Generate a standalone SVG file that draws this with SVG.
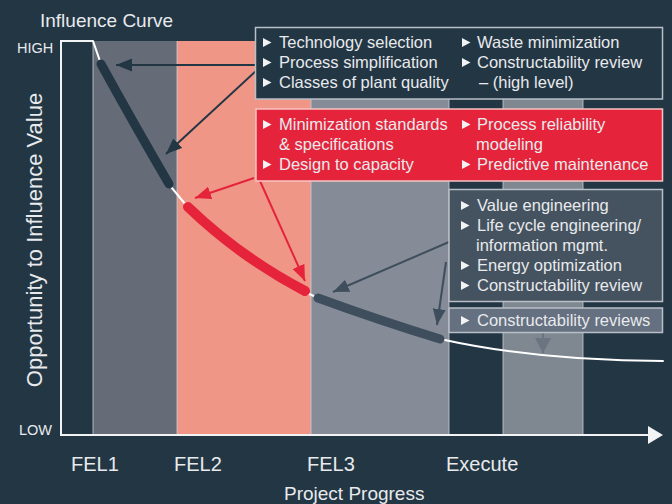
<svg xmlns="http://www.w3.org/2000/svg" width="672" height="504" viewBox="0 0 672 504">
<style>
text{font-family:"Liberation Sans",Arial,sans-serif;fill:#e8eaed}
.bx{font-size:16.5px}
.ax{font-size:20px}
.bl{fill:#f2f3f5}
.edge{stroke:#c9cdd3;stroke-width:1;opacity:0.8}
</style>
<defs>
<path id="b" d="M0,-4.4 L8.5,0 L0,4.4Z"/>
<marker id="mDark" markerUnits="userSpaceOnUse" markerWidth="18" markerHeight="14" refX="16" refY="6.5" orient="auto"><path d="M0,0 L16,6.5 L0,13Z" fill="#233644"/></marker>
<marker id="mRed" markerUnits="userSpaceOnUse" markerWidth="18" markerHeight="14" refX="16" refY="6.5" orient="auto"><path d="M0,0 L16,6.5 L0,13Z" fill="#e5243b"/></marker>
<marker id="mGray" markerUnits="userSpaceOnUse" markerWidth="18" markerHeight="14" refX="16" refY="6.5" orient="auto"><path d="M0,0 L16,6.5 L0,13Z" fill="#3f4e5d"/></marker>
<marker id="mLight" markerUnits="userSpaceOnUse" markerWidth="18" markerHeight="17" refX="15" refY="8" orient="auto"><path d="M0,0 L15,8 L0,16Z" fill="#6b7481"/></marker>
</defs>
<rect width="672" height="504" fill="#233644"/>
<g id="bands">
<rect x="93" y="41" width="84" height="394" fill="#656c78"/>
<rect x="177" y="41" width="134" height="394" fill="#f09686"/>
<rect x="311" y="41" width="138" height="394" fill="#858c97"/>
<rect x="503" y="41" width="80" height="394" fill="#7f8791"/>
<line class="edge" x1="93" y1="41" x2="93" y2="435"/>
<line class="edge" x1="177" y1="41" x2="177" y2="435"/>
<line class="edge" x1="311" y1="41" x2="311" y2="435"/>
<line class="edge" x1="449" y1="41" x2="449" y2="435"/>
<line class="edge" x1="503" y1="41" x2="503" y2="435"/>
<line class="edge" x1="583" y1="41" x2="583" y2="435"/>
</g>
<g id="axes">
<path d="M93,41 L61,41 L61,435 L649,435" fill="none" stroke="#f2f3f5" stroke-width="2"/>
<path d="M648,426 L663,435 L648,444Z" fill="#f2f3f5"/>
<text x="40" y="27" style="font-size:19px">Influence Curve</text>
<text x="17" y="53" style="font-size:14.5px">HIGH</text>
<text x="19" y="435" style="font-size:14.5px">LOW</text>
<text transform="translate(42,240) rotate(-90)" text-anchor="middle" style="font-size:22px">Opportunity to Influence Value</text>
<text class="ax" x="71" y="471">FEL1</text>
<text class="ax" x="174" y="471">FEL2</text>
<text class="ax" x="307" y="471">FEL3</text>
<text class="ax" x="446" y="471">Execute</text>
<text x="284" y="500" style="font-size:19px">Project Progress</text>
</g>
<g id="curve" fill="none" stroke-linecap="round">
<path d="M93,41 L101,64 Q132,120.5 171,187 L186,205 Q240,257 305,292 L318,298 Q378,320 440,339 Q540,361 663,361" stroke="#ffffff" stroke-width="2"/>
<path d="M101,64 Q132,120.5 169,184" stroke="#233644" stroke-width="9"/>
<path d="M188,207 Q240,257 305,291" stroke="#e5243b" stroke-width="10"/>
<path d="M318,298 Q378,320 440,339" stroke="#3f4e5d" stroke-width="9"/>
</g>
<g id="connectors" fill="none" stroke-width="2">
<line x1="256" y1="65" x2="116" y2="65" stroke="#233644" marker-end="url(#mDark)"/>
<line x1="256" y1="71" x2="166" y2="154" stroke="#233644" marker-end="url(#mDark)"/>
<line x1="254" y1="178" x2="195" y2="198" stroke="#e5243b" marker-end="url(#mRed)"/>
<line x1="260" y1="181" x2="305" y2="281" stroke="#e5243b" marker-end="url(#mRed)"/>
<line x1="449" y1="242" x2="333" y2="292" stroke="#3f4e5d" marker-end="url(#mGray)"/>
<line x1="446" y1="262" x2="437" y2="325" stroke="#3f4e5d" marker-end="url(#mGray)"/>
<line x1="543" y1="333" x2="543" y2="353" stroke="#6b7481" marker-end="url(#mLight)"/>
</g>
<g id="box-fel1">
<rect x="255.5" y="27.5" width="407" height="71.5" fill="#233644" stroke="#b9bfc7" stroke-width="1.5"/>
<use href="#b" class="bl" x="263" y="42.5"/><text class="bx" x="279" y="48">Technology selection</text>
<use href="#b" class="bl" x="263" y="62.5"/><text class="bx" x="279" y="68">Process simplification</text>
<use href="#b" class="bl" x="263" y="82.5"/><text class="bx" x="279" y="88">Classes of plant quality</text>
<use href="#b" class="bl" x="462" y="42.5"/><text class="bx" x="477" y="48">Waste minimization</text>
<use href="#b" class="bl" x="462" y="62.5"/><text class="bx" x="477" y="68">Constructability review</text>
<text class="bx" x="479" y="88">– (high level)</text>
</g>
<g id="box-fel2">
<rect x="256" y="109" width="406.5" height="72" fill="#e5243b" stroke="#f6c3c3" stroke-width="1.5"/>
<use href="#b" class="bl" x="263" y="124.5"/><text class="bx" x="279" y="130">Minimization standards</text>
<text class="bx" x="279" y="150">&amp; specifications</text>
<use href="#b" class="bl" x="263" y="164.5"/><text class="bx" x="279" y="170">Design to capacity</text>
<use href="#b" class="bl" x="462" y="124.5"/><text class="bx" x="477" y="130">Process reliability</text>
<text class="bx" x="476" y="150">modeling</text>
<use href="#b" class="bl" x="462" y="164.5"/><text class="bx" x="477" y="170">Predictive maintenance</text>
</g>
<g id="box-fel3">
<rect x="449" y="189.5" width="213.5" height="112" fill="#45525f" stroke="#b9bfc7" stroke-width="1.5"/>
<use href="#b" class="bl" x="461" y="205.5"/><text class="bx" x="477" y="211">Value engineering</text>
<use href="#b" class="bl" x="461" y="225.5"/><text class="bx" x="477" y="231">Life cycle engineering/</text>
<text class="bx" x="476" y="251">information mgmt.</text>
<use href="#b" class="bl" x="461" y="265.5"/><text class="bx" x="477" y="271">Energy optimization</text>
<use href="#b" class="bl" x="461" y="285.5"/><text class="bx" x="477" y="291">Constructability review</text>
</g>
<g id="box-execute">
<rect x="449" y="308" width="213.5" height="24.5" fill="#657080" stroke="#b9bfc7" stroke-width="1.5"/>
<use href="#b" class="bl" x="461" y="320.5"/><text class="bx" x="477" y="326">Constructability reviews</text>
</g>
</svg>
